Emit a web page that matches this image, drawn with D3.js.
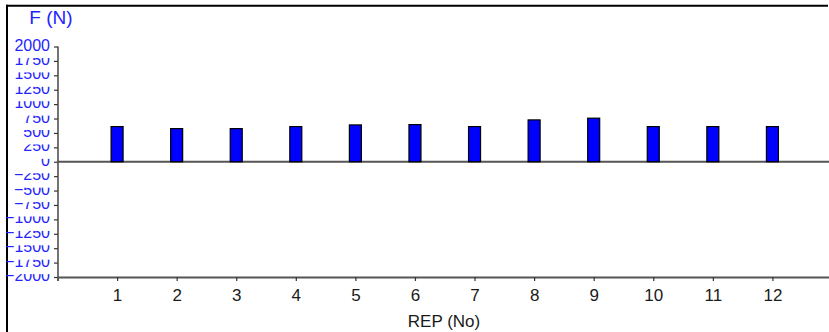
<!DOCTYPE html>
<html>
<head>
<meta charset="utf-8">
<script src="https://cdn.jsdelivr.net/npm/d3@7"></script>
<style>
  html, body { margin: 0; padding: 0; background: #fff; }
  svg { display: block; }
  text { font-family: "Liberation Sans", Arial, sans-serif; }
</style>
</head>
<body>
<svg id="chart" width="829" height="332"></svg>
<script>
// ---- data ----
const categories = [1, 2, 3, 4, 5, 6, 7, 8, 9, 10, 11, 12];
const forceValues = [610, 575, 575, 610, 639, 645, 610, 726, 756, 610, 610, 610];
const yTickValues = [-2000, -1750, -1500, -1250, -1000, -750, -500, -250, 0, 250, 500, 750, 1000, 1250, 1500, 1750, 2000];
const xTickLabels = ["1", "2", "3", "4", "5", "6", "7", "8", "9", "10", "11", "12"];
const yTitle = "F (N)";
const xTitle = "REP (No)";

const W = 829, H = 332;
const svg = d3.select("#chart");

const x = d3.scaleLinear().domain([0, 13]).range([57.5, 832]);
const y = d3.scaleLinear().domain([-2000, 2000]).range([277, 46.5]);

// frame (top and left edges)
svg.append("line").attr("x1", 6).attr("x2", 828).attr("y1", 5.7).attr("y2", 5.7)
  .attr("stroke", "#000").attr("stroke-width", 2);
svg.append("line").attr("x1", 7).attr("x2", 7).attr("y1", 4.7).attr("y2", H)
  .attr("stroke", "#000").attr("stroke-width", 2);

// y axis
const yAxis = d3.axisLeft(y).tickValues(yTickValues).tickSize(4).tickPadding(4)
  .tickFormat(d3.format("d"));
const yg = svg.append("g").attr("transform", "translate(58,0)").call(yAxis);
yg.select(".domain").remove();
yg.selectAll(".tick line").attr("stroke", "#333").attr("stroke-width", 1.2);
yg.selectAll(".tick").each(function () {
  const t = d3.select(this);
  t.insert("rect", "text")
    .attr("x", -49.5).attr("width", 43.5)
    .attr("y", -9.5).attr("height", 20.5)
    .attr("fill", "#fff");
});
yg.selectAll(".tick text")
  .attr("dy", null).attr("y", 3.5)
  .attr("fill", "#2424ff")
  .style("font-size", "16px");
svg.append("line").attr("x1", 58).attr("x2", 58).attr("y1", y(2000)).attr("y2", y(-2000))
  .attr("stroke", "#444").attr("stroke-width", 1.5);

// x axis
const xAxis = d3.axisBottom(x).tickValues(categories).tickSize(4).tickPadding(4)
  .tickFormat((d, i) => xTickLabels[i]);
const xg = svg.append("g").attr("transform", "translate(0,277)").call(xAxis);
xg.select(".domain").attr("stroke", "#555").attr("stroke-width", 2);
xg.selectAll(".tick line").attr("stroke", "#333").attr("stroke-width", 1.2);
xg.selectAll(".tick text")
  .attr("dy", null).attr("y", 23.7)
  .attr("fill", "#1a1a1a")
  .style("font-size", "17px");

// zero line
svg.append("line").attr("x1", 57.5).attr("x2", W).attr("y1", y(0)).attr("y2", y(0))
  .attr("stroke", "#555").attr("stroke-width", 2);

// bars
svg.append("g").selectAll("rect").data(categories).join("rect")
  .attr("x", (d) => x(d) - 6)
  .attr("width", 12)
  .attr("y", (d, i) => y(forceValues[i]))
  .attr("height", (d, i) => y(0) - y(forceValues[i]))
  .attr("fill", "#0000ff")
  .attr("stroke", "#000")
  .attr("stroke-width", 1.2);

// titles
svg.append("text").attr("x", 51).attr("y", 24.3).attr("text-anchor", "middle")
  .attr("fill", "#2424ff").style("font-size", "19px").text(yTitle);
svg.append("text").attr("x", 444).attr("y", 326.7).attr("text-anchor", "middle")
  .attr("fill", "#1a1a1a").style("font-size", "17px").text(xTitle);
</script>
</body>
</html>
